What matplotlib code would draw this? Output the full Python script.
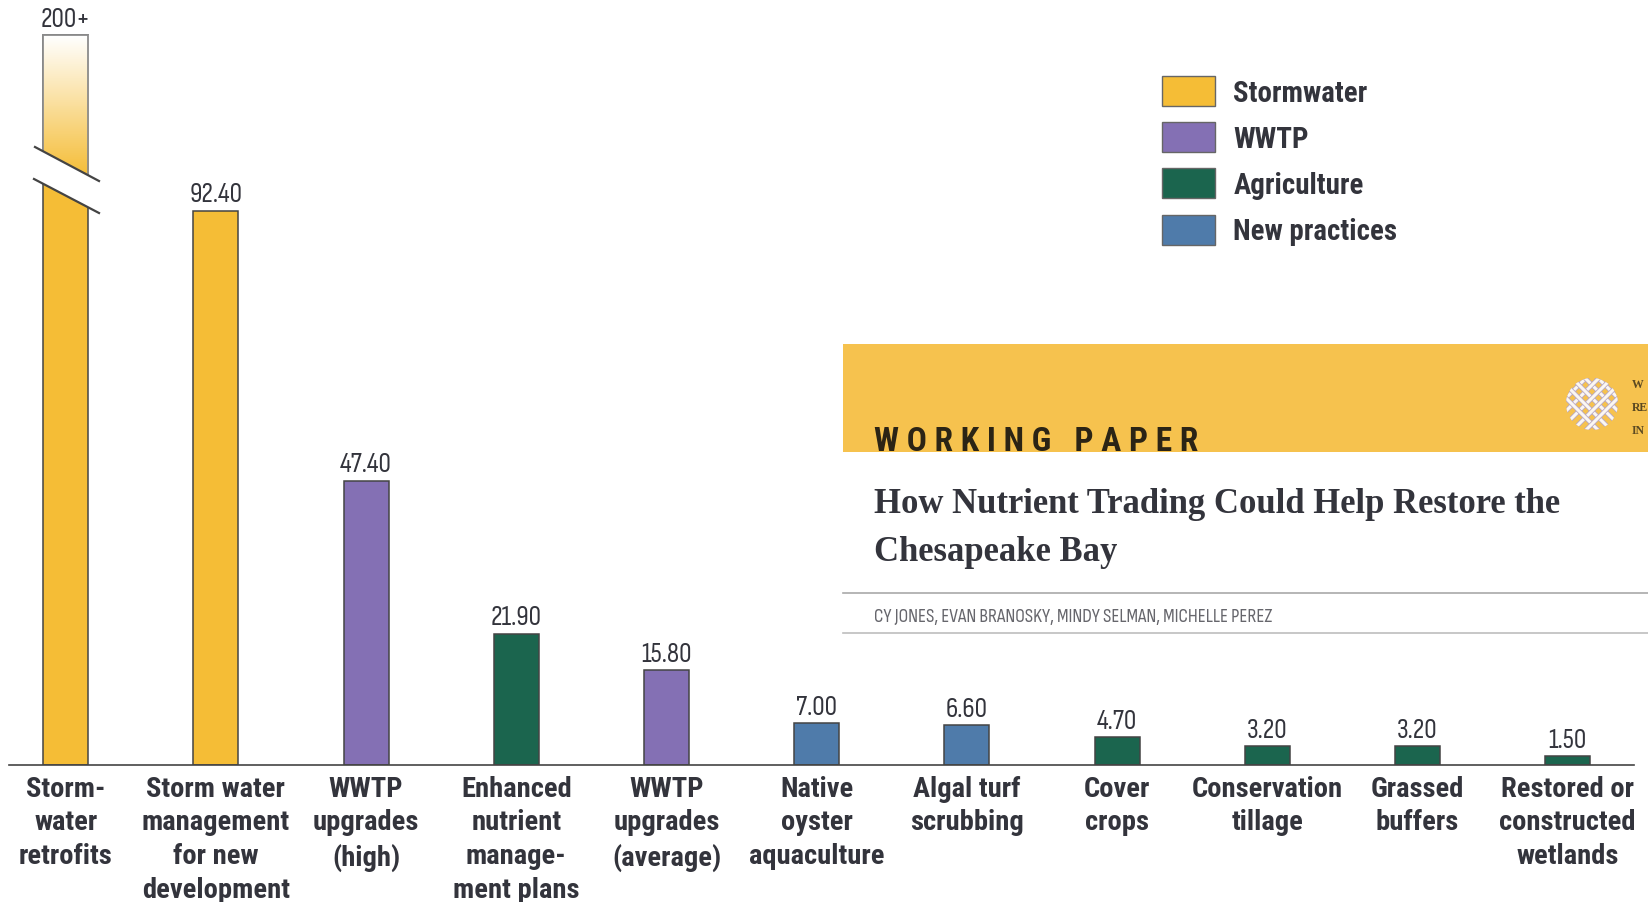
# Costo por práctica de reducción de nitrógeno, con portada del informe encima

import numpy as np
import matplotlib
matplotlib.use('Agg')
import matplotlib.pyplot as plt
from matplotlib.colors import LinearSegmentedColormap
from matplotlib.patches import Patch, Polygon, Rectangle, Circle

categories = ['Storm-\nwater\nretrofits', 'Storm water\nmanagement\nfor new\ndevelopment',
              'WWTP\nupgrades\n(high)', 'Enhanced\nnutrient\nmanage-\nment plans',
              'WWTP\nupgrades\n(average)', 'Native\noyster\naquaculture', 'Algal turf\nscrubbing',
              'Cover\ncrops', 'Conservation\ntillage', 'Grassed\nbuffers',
              'Restored or\nconstructed\nwetlands']
values = [200, 92.40, 47.40, 21.90, 15.80, 7.00, 6.60, 4.70, 3.20, 3.20, 1.50]
value_labels = ['200+', '92.40', '47.40', '21.90', '15.80', '7.00', '6.60', '4.70', '3.20', '3.20', '1.50']
sectors = ['Stormwater', 'Stormwater', 'WWTP', 'Agriculture', 'WWTP', 'New practices',
           'New practices', 'Agriculture', 'Agriculture', 'Agriculture', 'Agriculture']
sector_names = ['Stormwater', 'WWTP', 'Agriculture', 'New practices']
sector_colors = ['#F5BD36', '#8470B4', '#1B654E', '#4F7BAA']

W, H = 1648, 903
BASE_PX = 766
PX_PER_UNIT = 6.0
BROKEN_TOP = (BASE_PX - 36) / PX_PER_UNIT  # altura dibujada de la barra cortada

BOLD = ['Roboto Condensed', 'Lato', 'DejaVu Sans']
PLAIN = ['Sofia Sans Condensed', 'Archivo Narrow', 'Lato', 'DejaVu Sans']
INK = '#33343c'
EDGE = '#444444'

fig = plt.figure(figsize=(W / 100, H / 100), dpi=100)
ax = fig.add_axes([9 / W, 1 - BASE_PX / H, (1634 - 9) / W, BASE_PX / H])

colors = dict(zip(sector_names, sector_colors))
x = np.arange(len(values))
heights = np.minimum(values, BROKEN_TOP)
bars = ax.bar(x, heights, width=0.3, color=[colors[s] for s in sectors],
              edgecolor=EDGE, linewidth=1.1, zorder=2)
ax.bar_label(bars, labels=value_labels, padding=3, fontsize=20, color=INK, family=PLAIN)

# Parte superior de la barra cortada, se desvanece a blanco
grad = LinearSegmentedColormap.from_list('fade', ['#FFFFFF', sector_colors[0]])
grad_bottom = (BASE_PX - 178) / PX_PER_UNIT
ax.imshow(np.linspace(0, 1, 128).reshape(-1, 1), cmap=grad, aspect='auto', zorder=3,
          extent=(-0.15, 0.15, grad_bottom, BROKEN_TOP), origin='upper')
ax.add_patch(Rectangle((-0.15, grad_bottom), 0.3, BROKEN_TOP - grad_bottom, fill=False,
                       edgecolor='#8c8c8c', linewidth=1.3, zorder=4))

ax.set_xlim((9 - 65.7) / 150.2, (1634 - 65.7) / 150.2)
ax.set_ylim(0, BASE_PX / PX_PER_UNIT)
ax.set_yticks([])
ax.set_xticks(x, categories, fontsize=20.5, fontweight='bold', color=INK, family=BOLD,
              linespacing=1.32)
ax.tick_params(axis='x', length=0, pad=7)
for side in ['top', 'left', 'right']:
    ax.spines[side].set_visible(False)
ax.spines['bottom'].set_color(EDGE)
ax.spines['bottom'].set_linewidth(1.2)
ax.patch.set_alpha(0)

handles = [Patch(facecolor=c, edgecolor='#666666', linewidth=1) for c in sector_colors]
ax.legend(handles, sector_names, loc='upper left', bbox_to_anchor=(0.7095, 0.8995), frameon=False,
          prop={'family': BOLD, 'size': 20.8, 'weight': 'bold'}, labelcolor=INK,
          handlelength=1.85, handleheight=1.21, handletextpad=0.62, labelspacing=0.54,
          borderpad=0, borderaxespad=0)

# Capa en píxeles para el corte y la portada
top = fig.add_axes([0, 0, 1, 1])
top.set_xlim(0, W)
top.set_ylim(H, 0)
top.set_axis_off()

top.add_patch(Polygon([(35, 148), (99, 182), (99, 214), (34, 180)], facecolor='white',
                      edgecolor='none', zorder=5))
top.plot([35, 99], [148, 182], color='#444444', lw=1.6, zorder=6)
top.plot([34, 99], [180, 214], color='#444444', lw=1.6, zorder=6)

top.add_patch(Rectangle((843, 345), W - 843, 108, facecolor='#F6C24E', edgecolor='none'))
top.text(874, 451, 'W O R K I N G   P A P E R', fontsize=24, fontweight='bold', color='#2b2415',
         family=BOLD, va='baseline', ha='left')
top.text(874, 513, 'How Nutrient Trading Could Help Restore the', fontsize=24.9, fontweight='bold',
         color='#33343c', family='Liberation Serif', va='baseline', ha='left')
top.text(874, 561, 'Chesapeake Bay', fontsize=24.9, fontweight='bold',
         color='#33343c', family='Liberation Serif', va='baseline', ha='left')
top.plot([843, W], [594, 594], color='#a9a9a9', lw=1.2)
top.plot([843, W], [634, 634], color='#bdbdbd', lw=1.2)
top.text(874, 622, 'CY JONES, EVAN BRANOSKY, MINDY SELMAN, MICHELLE PEREZ', fontsize=14,
         color='#66666c', family=PLAIN, va='baseline', ha='left')

# Logo trenzado
clip = Circle((1592, 405), 26, transform=top.transData)
for off in range(-32, 33, 13):
    for sign in (1, -1):
        xs = np.array([1592 - 32, 1592 + 32])
        ys = 405 + off + sign * (xs - 1592)
        under, = top.plot(xs, ys, color='#b9a9c4', lw=3.4)
        over, = top.plot(xs, ys, color='#fbf7f2', lw=2.2)
        under.set_clip_path(clip)
        over.set_clip_path(clip)
for letters, y in [('W', 388), ('RE', 411), ('IN', 434)]:
    top.text(1632, y, letters, fontsize=8.5, fontweight='bold', color='#5c4a22',
             family='Liberation Serif', va='baseline', ha='left')

fig.savefig('out.png', dpi=100)
